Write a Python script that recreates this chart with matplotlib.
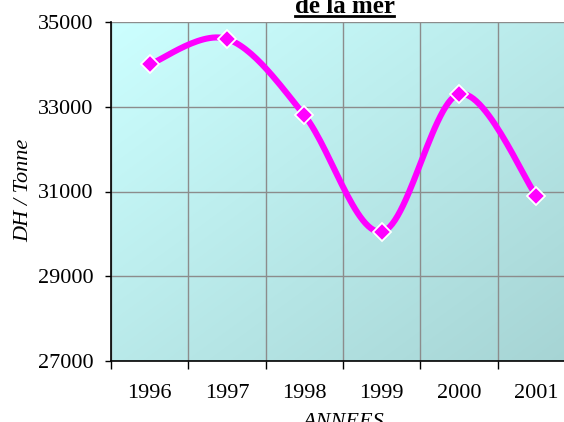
import numpy as np
import matplotlib
matplotlib.use("Agg")
import matplotlib.pyplot as plt
from matplotlib.colors import LinearSegmentedColormap

years = ["1996", "1997", "1998", "1999", "2000", "2001"]
values = [34000, 34600, 32800, 30050, 33300, 30900]
yticks = [27000, 29000, 31000, 33000, 35000]
title = "de la mer"
xlabel = "ANNEES"
ylabel = "DH / Tonne"

plt.rcParams['font.family'] = ['Liberation Serif', 'DejaVu Serif']

W, H = 564, 422
fig = plt.figure(figsize=(W / 100, H / 100), dpi=100)
left, right, top, bottom = 111, 575, 22, 361
ax = fig.add_axes([left / W, 1 - bottom / H, (right - left) / W, (bottom - top) / H])

# gradient background
n = 200
gx, gy = np.meshgrid(np.linspace(0, 1, n), np.linspace(0, 1, n))
g = (gx + gy) / 2
cmap = LinearSegmentedColormap.from_list("bg", ["#CCFFFF", "#A6D4D4"])
ax.imshow(g, cmap=cmap, extent=[0, 1, 0, 1], transform=ax.transAxes,
          aspect='auto', origin='upper', zorder=0, interpolation='bilinear')

# smooth curve (Catmull-Rom / Bezier) through data points
x = np.arange(len(values), dtype=float)
y = np.array(values, dtype=float)
px = np.concatenate([[x[0]], x, [x[-1]]])
py = np.concatenate([[y[0]], y, [y[-1]]])
cx, cy = [], []
for i in range(1, len(px) - 2):
    t = np.linspace(0, 1, 30)
    p0x, p1x, p2x, p3x = px[i - 1], px[i], px[i + 1], px[i + 2]
    p0y, p1y, p2y, p3y = py[i - 1], py[i], py[i + 1], py[i + 2]
    b1x = p1x + (p2x - p0x) / 6
    b1y = p1y + (p2y - p0y) / 6
    b2x = p2x - (p3x - p1x) / 6
    b2y = p2y - (p3y - p1y) / 6
    cx.append((1 - t) ** 3 * p1x + 3 * (1 - t) ** 2 * t * b1x + 3 * (1 - t) * t ** 2 * b2x + t ** 3 * p2x)
    cy.append((1 - t) ** 3 * p1y + 3 * (1 - t) ** 2 * t * b1y + 3 * (1 - t) * t ** 2 * b2y + t ** 3 * p2y)
cx = np.concatenate(cx)
cy = np.concatenate(cy)

ax.plot(cx, cy, color="#FF00FF", lw=4.4, solid_capstyle='round', zorder=3)
ax.plot(x, y, linestyle='none', marker='D', markersize=9.5, markerfacecolor="#FF00FF",
        markeredgecolor="white", markeredgewidth=1.3, zorder=4)

ax.set_xlim(-0.5, len(years) - 0.5)
ax.set_ylim(27000, 35000)
ax.set_yticks(yticks)
ax.set_yticklabels([str(v) for v in yticks], fontsize=16)
ax.set_xticks(np.arange(-0.5, len(years) - 0.5 + 0.01, 1.0))
ax.set_xticklabels([])
ax.set_xticks(x, minor=True)
ax.set_xticklabels(years, minor=True, fontsize=16)
ax.tick_params(axis='x', which='minor', length=0, pad=16.5)
ax.tick_params(axis='x', which='major', length=5.5, width=1, direction='out', color='black')
ax.tick_params(axis='y', length=4.5, width=1, direction='out', color='black', pad=8)

ax.grid(True, which='major', color='#8C8C8C', lw=1, zorder=1)
ax.set_axisbelow(True)
for s in ['top', 'right']:
    ax.spines[s].set_visible(False)
ax.spines['left'].set_color('black')
ax.spines['bottom'].set_color('black')
ax.spines['left'].set_linewidth(1.2)
ax.spines['bottom'].set_linewidth(1.2)
ax.spines['left'].set_zorder(5)
ax.spines['bottom'].set_zorder(5)

fig.text(23.5 / W, 1 - 190 / H, ylabel, rotation=90, style='italic', fontsize=16,
         ha='center', va='center')
fig.text(343 / W, 1 - 413 / H, xlabel, style='italic', fontsize=16, ha='center', va='top')
fig.text(345 / W, 1 - 13 / H, title, fontsize=18, fontweight='bold', ha='center',
         va='baseline')
# underline of title
fig.add_artist(plt.Line2D([295 / W, 394 / W], [1 - 15.5 / H, 1 - 15.5 / H], color='black', lw=2))

fig.savefig("out.png", dpi=100)
